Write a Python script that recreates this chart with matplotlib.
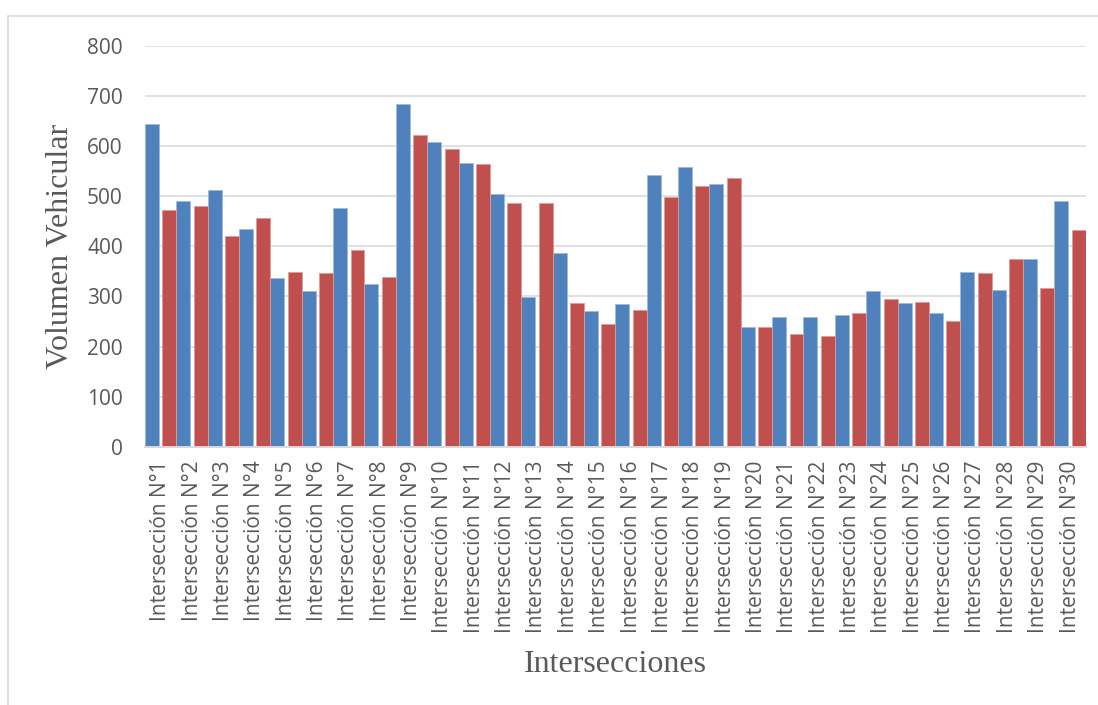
import matplotlib
matplotlib.use("Agg")
import matplotlib.pyplot as plt
from matplotlib.patches import Rectangle
import numpy as np

categories = [f"Intersección N°{i}" for i in range(1, 31)]
serie_azul = [645, 490, 512, 435, 337, 311, 477, 325, 685, 609,
              567, 505, 299, 387, 270, 285, 542, 559, 525, 239,
              258, 258, 263, 311, 287, 267, 349, 313, 374, 490]
serie_roja = [473, 481, 421, 457, 349, 347, 393, 339, 622, 595,
              565, 487, 487, 287, 244, 273, 499, 521, 537, 238,
              225, 222, 266, 294, 289, 251, 347, 374, 317, 433]
yticks = [0, 100, 200, 300, 400, 500, 600, 700, 800]

W, H = 1098, 705
fig = plt.figure(figsize=(W / 100, H / 100), dpi=100)
fig.patch.set_facecolor("white")

# chart border (right and bottom edges fall outside the canvas)
fig.patches.append(Rectangle((8 / W, -0.2), 1.2, 1.2 - 16 / H, transform=fig.transFigure,
                             fill=False, edgecolor="#d9d9d9", linewidth=1.2))

left, right = 145 / W, 1085.7 / W
top, bottom = 1 - 46 / H, 1 - 446.7 / H
ax = fig.add_axes([left, bottom, right - left, top - bottom])

x = np.arange(len(categories))
bw = 0.446
off = 0.5 - bw / 2
ax.bar(x - off, serie_azul, width=bw, color="#4F81BD", edgecolor="#9dbbe0", linewidth=0.6, zorder=3)
ax.bar(x + off, serie_roja, width=bw, color="#C0504D", edgecolor="#e09a98", linewidth=0.6, zorder=3)

ax.set_xlim(-0.5, len(categories) - 0.5)
ax.set_ylim(0, 800)
ax.set_yticks(yticks)
ax.set_yticklabels([str(v) for v in yticks])
ax.set_xticks(x)
ax.set_xticklabels(categories, rotation=90)

for lab in ax.get_yticklabels() + ax.get_xticklabels():
    lab.set_fontfamily("Open Sans")
    lab.set_fontsize(15)
    lab.set_color("#595959")

ax.tick_params(axis="y", length=0, pad=16)
ax.tick_params(axis="x", length=0, pad=10)

ax.grid(axis="y", color="#d9d9d9", linewidth=1.1, zorder=0)
ax.set_axisbelow(True)
for s in ["left", "right", "top"]:
    ax.spines[s].set_visible(False)
ax.spines["bottom"].set_color("#d9d9d9")
ax.spines["bottom"].set_linewidth(1.4)
ax.spines["bottom"].set_zorder(4)

fig.text(61 / W, 1 - 246 / H, "Volumen Vehicular", rotation=90, ha="center", va="center",
         family="Liberation Serif", fontsize=23, color="#595959")
fig.text(615.5 / W, 1 - 664 / H, "Intersecciones", ha="center", va="center",
         family="Liberation Serif", fontsize=23, color="#595959")

fig.savefig("out.png", dpi=100, facecolor="white")
